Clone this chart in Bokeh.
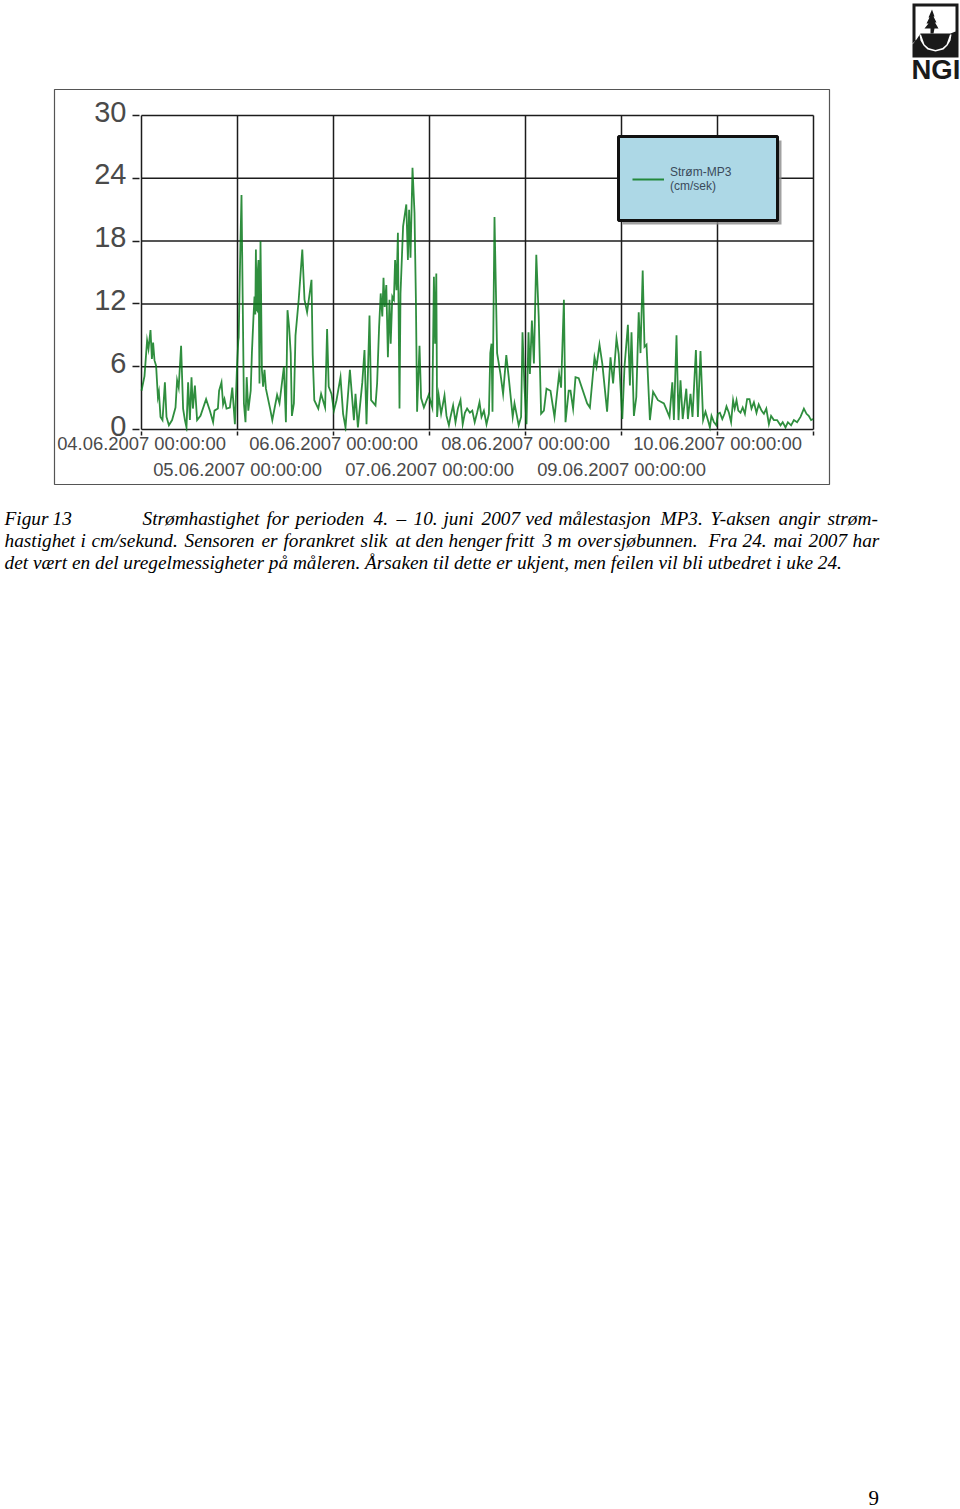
from bokeh.plotting import figure
from bokeh.models import (Range1d, LinearAxis, FixedTicker, BoxAnnotation, Label, PolyAnnotation, Legend, LegendItem)
from bokeh.embed import file_html
from bokeh.resources import INLINE

hours = [0,0.75,1.4,1.75,2.25,2.6,2.9,3.25,3.65,4.1,4.35,4.75,5.25,5.85,6.25,6.85,7.65,8.5,8.9,9.3,9.9,10.4,10.85,11.25,11.65,12.1,12.5,12.85,13.35,13.9,14.75,16.15,17.1,17.9,18.25,19.1,19.4,20,20.4,20.75,21.25,22.1,22.7,23.35,23.9,24.2,24.3,24.75,25,25.3,25.6,26,26.3,26.7,27.3,27.6,28,28.25,28.45,28.6,28.75,28.9,29.05,29.25,29.5,29.75,30.1,30.4,30.75,31.1,32.25,32.7,33.9,34.5,35.6,36.1,36.5,36.9,37.3,37.6,38.1,38.5,39.3,40.2,40.75,41.4,42.5,42.8,43.2,44.2,44.9,45.9,46.4,46.8,47.5,48.1,48.75,49.75,50.4,51,52.1,53.1,53.5,54.1,55.2,55.75,56.25,57,
57.4,58.5,58.9,59.4,59.8,60.2,60.5,60.8,61.2,61.6,62,62.3,62.7,63.1,63.4,63.75,64.1,64.5,64.75,65.4,66.2,66.6,66.9,67.25,67.75,68.25,68.6,68.9,69.5,69.9,70.6,71.8,72.7,73.1,73.4,73.7,73.9,74.3,74.9,75.75,76.25,76.85,77.25,77.9,78.5,79.1,79.75,80.3,80.85,81.4,82.1,82.7,83.3,83.9,84.5,85,85.6,86.25,86.85,87.2,87.5,87.75,88.25,88.9,89.75,90.4,91.2,91.8,92.8,93.25,94.3,94.9,95.25,95.75,96.25,96.75,97.1,97.6,98.1,98.7,99.3,99.9,100.6,101.25,102.25,103.25,104.4,104.9,105.6,106,106.8,
107.25,107.9,108.5,109.3,111.4,112.1,113.25,113.75,114.5,115.2,116.4,117.25,117.9,118.75,119.3,120.2,120.75,121.6,122.1,122.5,123.1,123.7,124.3,124.75,125.3,125.75,126.25,127.1,127.9,129.1,130.6,132,132.7,133.1,133.75,134.25,134.75,135.3,136.2,136.6,137.25,137.75,138.6,139.1,139.75,
140.4,141,141.6,142.1,142.5,143.1,143.7,144.1,144.6,145.2,145.75,146.25,146.85,147.4,147.9,148.3,148.75,149.2,149.75,150.3,150.85,151.4,152,152.5,153.1,153.75,154.3,155,155.6,156.2,156.85,157.4,158.1,158.9,159.75,160.3,161,161.6,162.4,163.1,163.9,164.75,165.6,166.25,166.8,167.4,167.9]
speed = [3.7,5.1,8.5,7.7,9.5,6.75,8.3,6.6,6.1,3.1,3.6,1.2,0.9,4.5,1.2,0.4,0.9,2.1,4.7,4,8,2,0.9,0.2,4.5,0.9,5,2,4.2,0.9,1.3,2.9,1.8,0.7,1.8,2,3.7,4.5,2.4,2.9,2,2.1,4,0.5,6.2,8.5,8.8,18.1,22.4,12.4,2.5,0.7,5,1.8,3.7,7.3,10.8,12.7,11,17.2,11.5,11.4,15,16.2,4.4,18,5.7,4.1,5.7,3.9,1.8,0.9,3.3,2.5,6,0.7,11.4,9.8,7.3,1.3,2.5,9,12.4,17.2,12.4,11.2,14.3,7.1,2.8,2,3.4,2.1,9.6,4.1,3.4,1.8,2.8,5,1.5,0.2,5.7,0.9,3.4,0.2,4.5,7.6,0.5,10.9,
2.8,2.3,4.4,9.8,13,10.8,14.5,11.7,13.8,6.9,12.4,8.2,12.7,12.4,16.2,13.3,18.8,2,13,19.4,21.5,16.2,21,16.4,25,20.7,12.4,1.7,8,3,2.1,3.3,2.1,14.6,8.2,14.9,1.2,3.25,1.5,3.25,1.3,0.4,1.2,2.3,0.7,2,2.8,0.5,1.6,2,1.6,1.8,0.7,1.6,2.6,1.2,1.8,0.5,1.5,7.3,8.2,1.7,20.3,7.3,5.3,3.4,7.1,5,1.2,2.5,0.4,1.2,9.3,4,0.5,9.3,5.3,10.4,6.3,16.7,10.8,1.5,1.8,3.9,3.7,1.2,5.3,4,12.4,0.7,3.7,
3.7,2,5,4.9,2.5,2.1,6.9,6,8.1,6.3,1.7,6.9,4.4,8.7,7.2,1,6,10,4.2,9.3,1.3,3.1,11.2,7.3,15.2,7.9,8.1,0.9,3.6,2.8,2.5,1.2,4.5,0.9,9,0.9,4.7,1,3.9,1,3.4,1.2,7.6,1.2,7.5,
0.9,1.7,0.9,0.2,1.3,0.7,0.4,1.5,1.6,1,1.5,2.2,1.6,0.7,2.8,2,2.8,1.8,1.6,2.1,1.5,2.9,2.9,2,2.6,1.6,2.4,1.8,1.5,2,0.5,1.3,0.9,0.9,0.4,0.7,0.2,0.7,0.4,0.9,0.7,1.2,2,1.5,1.3,0.9,1]

y_ticks = [0, 6, 12, 18, 24, 30]
x_ticks = [0, 24, 48, 72, 96, 120, 144, 168]
row1_labels = {0: "04.06.2007 00:00:00", 24: "", 48: "06.06.2007 00:00:00", 72: "", 96: "08.06.2007 00:00:00", 120: "", 144: "10.06.2007 00:00:00", 168: ""}
row2_labels = {24: "05.06.2007 00:00:00", 72: "07.06.2007 00:00:00", 120: "09.06.2007 00:00:00"}

cap1 = [(4,"Figur"),(52,"13"),(142,"Strømhastighet"),(266,"for"),(295,"perioden"),(373,"4."),(396,"–"),(413,"10."),(443,"juni"),(481,"2007"),(525,"ved"),(558,"målestasjon"),(660,"MP3."),(710,"Y-aksen"),(778,"angir"),(827,"strøm-")]
cap2 = [(4,"hastighet"),(80,"i"),(91,"cm/sekund."),(184,"Sensoren"),(261,"er"),(283,"forankret"),(360,"slik"),(395,"at"),(415,"den"),(448,"henger"),(505,"fritt"),(542,"3"),(557,"m"),(577,"over"),(613,"sjøbunnen."),(708,"Fra"),(742,"24."),(773,"mai"),(808,"2007"),(852,"har")]
cap3 = "det vært en del uregelmessigheter på måleren. Årsaken til dette er ukjent, men feilen vil bli utbedret i uke 24."

INK = "#1c1c1c"
TXT = "#4a4a4a"
W, H = 960, 1509

# ---- page layer: picture frame, caption, page number, logo ----
bg = figure(width=W, height=H, output_backend="svg", toolbar_location=None,
            x_range=Range1d(0, W), y_range=Range1d(H, 0),
            min_border=0, outline_line_color=None, x_axis_type=None, y_axis_type=None)
bg.grid.visible = False

bg.add_layout(BoxAnnotation(left=54, right=829, top=89, bottom=484,
                            fill_alpha=0, line_color="#555555", line_alpha=1, line_width=1.2))

def page_label(x, y, text, **kw):
    bg.add_layout(Label(x=x, y=y, text=text, text_baseline="alphabetic", **kw))

SERIF = dict(text_font="Liberation Serif", text_font_style="italic", text_font_size="19.3px", text_color="#000000")
for x, w in cap1:
    page_label(x, 517.5, w, **SERIF)
for x, w in cap2:
    page_label(x, 540, w, **SERIF)
page_label(4, 562, cap3, **SERIF)
page_label(868, 1497, "9", text_font="Liberation Serif", text_font_size="21px", text_color="#000000")

def poly(xs, ys, color):
    bg.add_layout(PolyAnnotation(xs=xs, ys=ys, fill_color=color, fill_alpha=1, line_alpha=0))
poly([912,958,958,912], [3,3,57,57], "#1a1a1a")
poly([915,955,955,950,920,916,912,912,915], [6,6,31,33,33,39,43,44,40], "#ffffff")
poly([919,920,923,927,935,943,947,950,951,949.5,946,942,935,928,924,920.5],
     [34,40,45,49,51,49,45,40,34,34,44,47.5,49.5,47.5,44,34], "#ffffff")
poly([931.5,934,933,936,934.5,938,934,933,930,930,924,928,926,929,928],
     [9,16,16,22,22,28,28,33,33,28,28,23,23,17,17], "#1a1a1a")
page_label(911, 68.5, "NGI", text_font="Liberation Sans", text_font_style="bold", text_font_size="27.5px", text_color="#1a1a1a")

# ---- chart layer ----
PX_PER_UNIT = 314 / 30
PX_PER_HOUR = 4
PAD = 2    # spare pixels round the plot so that its edge lines are not cut
HEAD = 6   # spare pixels above the 30 line so its shifted label stays in range
YLOW = -PAD / PX_PER_UNIT
YTOP = 30 + HEAD / PX_PER_UNIT
SHIFT = 4 / PX_PER_UNIT

p = figure(width=W, height=H, output_backend="svg", toolbar_location=None,
           x_range=Range1d(-PAD / PX_PER_HOUR, 168 + PAD / PX_PER_HOUR), y_range=Range1d(YLOW, YTOP),
           min_border_left=141 - PAD, min_border_right=W - 813 - PAD,
           min_border_top=115 - HEAD, min_border_bottom=H - 429 - PAD,
           margin=(-H, 0, 0, 0), outline_line_color=None,
           background_fill_alpha=0, border_fill_alpha=0)
p.extra_y_ranges["lab"] = Range1d(YLOW - SHIFT, YTOP - SHIFT)
p.grid.visible = False

xa = p.xaxis[0]
xa.ticker = FixedTicker(ticks=x_ticks)
xa.major_label_overrides = row1_labels
xa.major_label_text_font = "Liberation Sans"
xa.major_label_text_font_size = "18.4px"
xa.major_label_text_color = TXT
xa.major_label_standoff = -3
xa.major_tick_in = 0
xa.major_tick_out = 4
xa.major_tick_line_color = INK
xa.major_tick_line_width = 1.5
xa.minor_tick_line_color = None
xa.axis_line_color = None

xb = LinearAxis(ticker=FixedTicker(ticks=sorted(row2_labels)), major_label_overrides=row2_labels,
                major_label_text_font="Liberation Sans", major_label_text_font_size="18.4px",
                major_label_text_color=TXT, major_label_standoff=2, major_tick_line_color=None,
                major_tick_in=0, major_tick_out=0, minor_tick_line_color=None, axis_line_color=None)
p.add_layout(xb, "below")

ya = p.yaxis[0]
ya.ticker = FixedTicker(ticks=y_ticks)
ya.major_label_overrides = {t: "" for t in y_ticks}
ya.major_label_standoff = 0
ya.major_tick_in = 0
ya.major_tick_out = 7
ya.major_tick_line_color = INK
ya.major_tick_line_width = 1.5
ya.minor_tick_line_color = None
ya.axis_line_color = None

yb = LinearAxis(y_range_name="lab", ticker=FixedTicker(ticks=y_ticks),
                major_label_text_font="Liberation Sans", major_label_text_font_size="29px",
                major_label_text_color=TXT, major_label_standoff=6, major_tick_line_color=None,
                major_tick_in=0, major_tick_out=0, minor_tick_line_color=None, axis_line_color=None)
p.add_layout(yb, "left")

# grid from the same tick lists
p.segment(x_ticks, [0] * len(x_ticks), x_ticks, [30] * len(x_ticks), line_color=INK, line_width=1.5, level="underlay")
p.segment([0] * len(y_ticks), y_ticks, [168] * len(y_ticks), y_ticks, line_color=INK, line_width=1.5, level="underlay")

line = p.line(hours, speed, line_color="#0a7a1c", line_width=1.8, line_alpha=0.85, line_join="miter")

# legend box
p.extra_x_ranges["px"] = Range1d(141 - PAD, 813 + PAD)
p.extra_y_ranges["px"] = Range1d(429 + PAD, 115 - HEAD)
p.add_layout(BoxAnnotation(left=622, right=781, top=140, bottom=224, x_range_name="px", y_range_name="px",
                           fill_color="#8a8a8a", fill_alpha=0.8, line_alpha=0))
p.add_layout(BoxAnnotation(left=618, right=777, top=136, bottom=220, x_range_name="px", y_range_name="px",
                           fill_color="#add8e6", fill_alpha=1, line_color="#111111", line_alpha=1, line_width=3))
legend = Legend(items=[LegendItem(label="Strøm-MP3\n(cm/sek)", renderers=[line])],
                location=(493, 238), background_fill_alpha=0, border_line_color=None,
                glyph_width=32, glyph_height=14, label_standoff=6, padding=0, margin=0,
                label_text_font="Liberation Sans", label_text_font_size="12px",
                label_text_line_height=1.2, label_text_color="#3a4a5a")
p.add_layout(legend)

open("out.html", "w").write(file_html([bg, p], INLINE))
